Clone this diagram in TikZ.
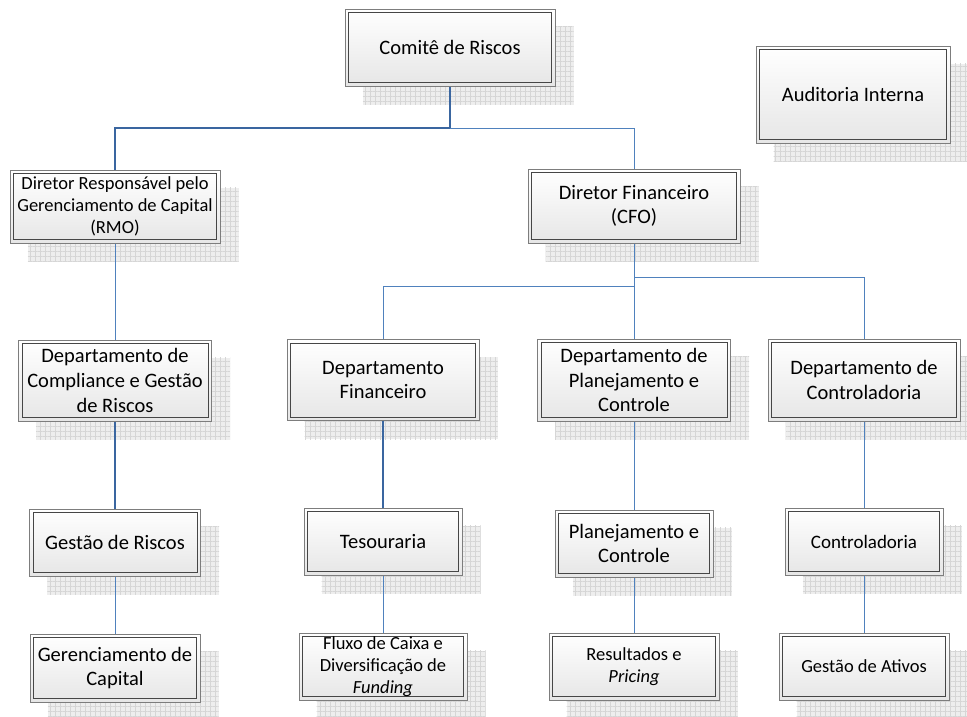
\documentclass[tikz,border=0pt]{standalone}
\usepackage{fontspec}
\setmainfont{Carlito}
\usetikzlibrary{patterns.meta}
\definecolor{boxborder}{RGB}{125,125,125}
\definecolor{boxinner}{RGB}{70,70,70}
\definecolor{boxbottom}{RGB}{230,230,230}
\definecolor{shadowfill}{RGB}{238,238,238}
\definecolor{shadowgrid}{RGB}{214,214,214}
\definecolor{linkthin}{RGB}{79,129,189}
\definecolor{linkthick}{RGB}{58,102,160}
\pgfdeclarelayer{bg}
\pgfsetlayers{bg,main}
\tikzset{
  orgbox/.style={draw=boxborder, line width=1pt, top color=white, bottom color=boxbottom,
    inner sep=0pt, align=center, font=\fontsize{20.5}{24.6}\selectfont,
    path picture={\draw[boxinner, line width=0.9pt]
      ([shift={(3.5pt,-3.5pt)}]path picture bounding box.north west) rectangle
      ([shift={(-3.5pt,3.5pt)}]path picture bounding box.south east);}},
  smalltext/.style={font=\fontsize{18.5}{22.2}\selectfont},
  midtext/.style={font=\fontsize{19}{22.8}\selectfont},
  shadowbox/.style={fill=shadowfill, postaction={pattern={Hatch[angle=0,distance=5pt,line width=0.5pt]}, pattern color=shadowgrid}},
  thinlink/.style={draw=linkthin, line width=1pt},
  thicklink/.style={draw=linkthick, line width=2pt},
}
\begin{document}
\begin{tikzpicture}[x=1pt,y=-1pt]
\useasboundingbox (0,0) rectangle (967,716);
% nodes
\node[orgbox, minimum width=210pt, minimum height=77pt] (com) at (450,47.5) {Comitê de Riscos};
\node[orgbox, minimum width=194pt, minimum height=97pt] (aud) at (853,94.5) {Auditoria Interna};
\node[orgbox, smalltext, minimum width=210pt, minimum height=73pt] (rmo) at (115,206.5) {Diretor Responsável pelo\\Gerenciamento de Capital\\(RMO)};
\node[orgbox, minimum width=212pt, minimum height=74pt] (cfo) at (634,206) {Diretor Financeiro\\(CFO)};
\node[orgbox, minimum width=193pt, minimum height=81pt] (dcg) at (115,380.5) {Departamento de\\Compliance e Gestão\\de Riscos};
\node[orgbox, minimum width=192pt, minimum height=81pt] (dfin) at (383,380) {Departamento\\Financeiro};
\node[orgbox, minimum width=193pt, minimum height=82pt] (dpc) at (634,380) {Departamento de\\Planejamento e\\Controle};
\node[orgbox, minimum width=192pt, minimum height=82pt] (dctl) at (864,380) {Departamento de\\Controladoria};
\node[orgbox, minimum width=171pt, minimum height=67pt] (gr) at (115,542.5) {Gestão de Riscos};
\node[orgbox, minimum width=158pt, minimum height=67pt] (tes) at (383,541.5) {Tesouraria};
\node[orgbox, minimum width=158pt, minimum height=67pt] (pc) at (634,543.5) {Planejamento e\\Controle};
\node[orgbox, midtext, minimum width=158pt, minimum height=67pt] (ctl) at (864,541.5) {Controladoria};
\node[orgbox, minimum width=170pt, minimum height=68pt] (gc) at (115,668) {Gerenciamento de\\Capital};
\node[orgbox, smalltext, minimum width=168pt, minimum height=67pt] (flx) at (383,666.5) {Fluxo de Caixa e\\Diversificação de\\\textit{Funding}};
\node[orgbox, smalltext, minimum width=170pt, minimum height=67pt] (res) at (634,666.5) {Resultados e\\\textit{Pricing}};
\node[orgbox, smalltext, minimum width=170pt, minimum height=67pt] (ga) at (864,666.5) {Gestão de Ativos};
% shadows
\begin{pgfonlayer}{bg}
\foreach \n in {com,aud,rmo,cfo,dcg,dfin,dpc,dctl,gr,tes,pc,ctl,gc,flx,res,ga}{
  \path[shadowbox] ([shift={(18,18)}]\n.north west) rectangle ([shift={(18,18)}]\n.south east);
}
\end{pgfonlayer}
% junctions
\coordinate (j1) at (450,128);
\coordinate (j2) at (634,286);
\coordinate (j3) at (634,277);
% connectors
\draw[thicklink] (com.south) -- (j1) -| (rmo.north);
\draw[thinlink] (j1) -| (cfo.north);
\draw[thinlink] (rmo.south) -- (dcg.north);
\draw[thicklink] (dcg.south) -- (gr.north);
\draw[thinlink] (gr.south) -- (gc.north);
\draw[thinlink] (cfo.south) -- (dpc.north);
\draw[thinlink] (j2) -| (dfin.north);
\draw[thinlink] (j3) -| (dctl.north);
\draw[thicklink, line width=1.6pt] (dfin.south) -- (tes.north);
\draw[thinlink] (tes.south) -- (flx.north);
\draw[thinlink] (dpc.south) -- (pc.north);
\draw[thinlink] (pc.south) -- (res.north);
\draw[thinlink] (dctl.south) -- (ctl.north);
\draw[thinlink] (ctl.south) -- (ga.north);
\end{tikzpicture}
\end{document}
